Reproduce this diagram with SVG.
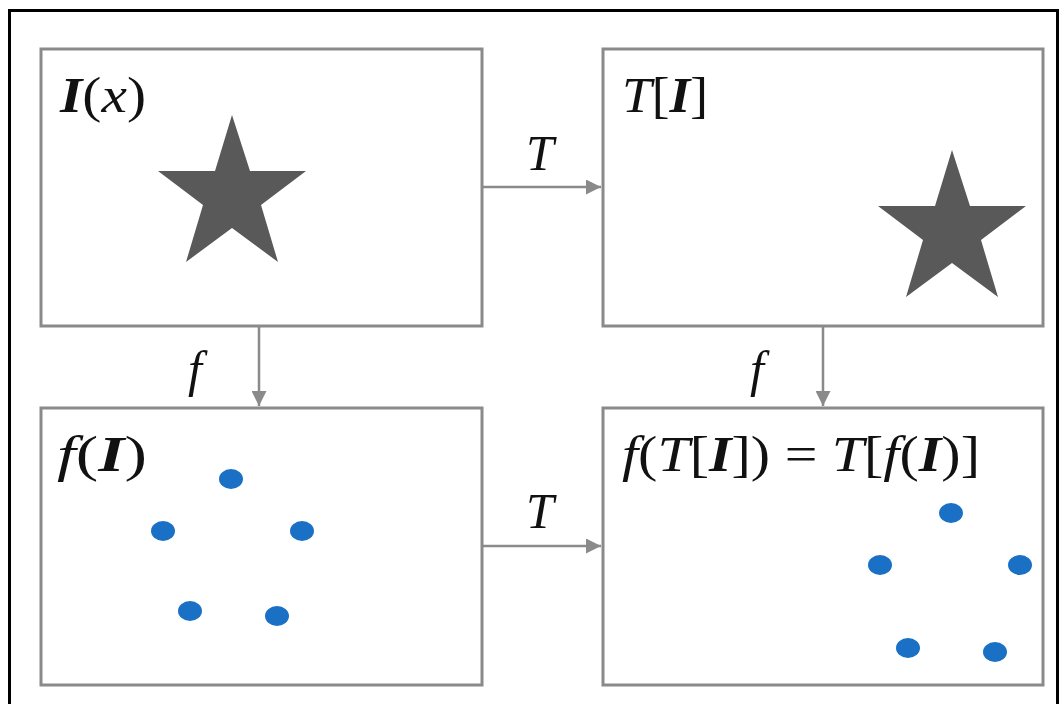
<svg xmlns="http://www.w3.org/2000/svg" width="1062" height="704" viewBox="0 0 1062 704">
<style>
.box{fill:#ffffff;stroke:#8a8a8a;stroke-width:3}
.star{fill:#595959}
.dot{fill:#1a70c4}
.conn{stroke:#8a8a8a;stroke-width:2.5;fill:none}
.lbl{font-family:"Liberation Serif","Times New Roman",serif;font-size:50px;fill:#111}
.it{font-style:italic}
.bi{font-style:italic;font-weight:bold}
</style>
<defs>
<marker id="ah" viewBox="0 0 10 10" refX="10" refY="5" markerWidth="6" markerHeight="6" orient="auto" markerUnits="strokeWidth">
<path d="M0,0 L10,5 L0,10 z" fill="#8a8a8a"/>
</marker>
</defs>
<rect x="0" y="0" width="1062" height="704" fill="#ffffff"/>
<rect x="9.5" y="10.5" width="1048" height="720" fill="none" stroke="#000" stroke-width="3"/>
<g id="node-I">
<rect class="box" x="41" y="49" width="441" height="277"/>
<text class="lbl" x="60" y="112" textLength="86" lengthAdjust="spacingAndGlyphs"><tspan class="bi">I</tspan>(<tspan class="it">x</tspan>)</text>
<polygon class="star" points="232,115 250,171 306,171 261,205 278,262 232,228 186,262 203,205 158,171 215,171"/>
</g>
<g id="node-TI">
<rect class="box" x="603" y="49" width="440" height="277"/>
<text class="lbl" x="622" y="112" textLength="86" lengthAdjust="spacingAndGlyphs"><tspan class="it">T</tspan>[<tspan class="bi">I</tspan>]</text>
<polygon class="star" points="952,150 970,206 1026,206 981,240 998,297 952,263 906,297 923,240 878,206 935,206"/>
</g>
<g id="node-fI">
<rect class="box" x="41" y="408" width="441" height="277"/>
<text class="lbl" x="57" y="471" textLength="90" lengthAdjust="spacingAndGlyphs"><tspan class="it">f</tspan>(<tspan class="bi">I</tspan>)</text>
<ellipse class="dot" cx="231" cy="479" rx="12" ry="10"/>
<ellipse class="dot" cx="163" cy="531" rx="12" ry="10"/>
<ellipse class="dot" cx="302" cy="531" rx="12" ry="10"/>
<ellipse class="dot" cx="190" cy="611" rx="12" ry="10"/>
<ellipse class="dot" cx="277" cy="616" rx="12" ry="10"/>
</g>
<g id="node-fTI">
<rect class="box" x="603" y="408" width="440" height="277"/>
<text class="lbl" x="622" y="471" textLength="358" lengthAdjust="spacingAndGlyphs"><tspan class="it">f</tspan>(<tspan class="it">T</tspan>[<tspan class="bi">I</tspan>]) = <tspan class="it">T</tspan>[<tspan class="it">f</tspan>(<tspan class="bi">I</tspan>)]</text>
<ellipse class="dot" cx="951" cy="513" rx="12" ry="10"/>
<ellipse class="dot" cx="880" cy="565" rx="12" ry="10"/>
<ellipse class="dot" cx="1020" cy="565" rx="12" ry="10"/>
<ellipse class="dot" cx="908" cy="648" rx="12" ry="10"/>
<ellipse class="dot" cx="995" cy="652" rx="12" ry="10"/>
</g>
<g id="connectors">
<line class="conn" x1="482" y1="187" x2="601" y2="187" marker-end="url(#ah)"/>
<line class="conn" x1="482" y1="546" x2="601" y2="546" marker-end="url(#ah)"/>
<line class="conn" x1="259" y1="326" x2="259" y2="406" marker-end="url(#ah)"/>
<line class="conn" x1="823" y1="326" x2="823" y2="406" marker-end="url(#ah)"/>
<text class="lbl it" x="540" y="170" text-anchor="middle">T</text>
<text class="lbl it" x="540" y="528" text-anchor="middle">T</text>
<text class="lbl it" x="195" y="386" text-anchor="middle">f</text>
<text class="lbl it" x="757" y="386" text-anchor="middle">f</text>
</g>
</svg>
